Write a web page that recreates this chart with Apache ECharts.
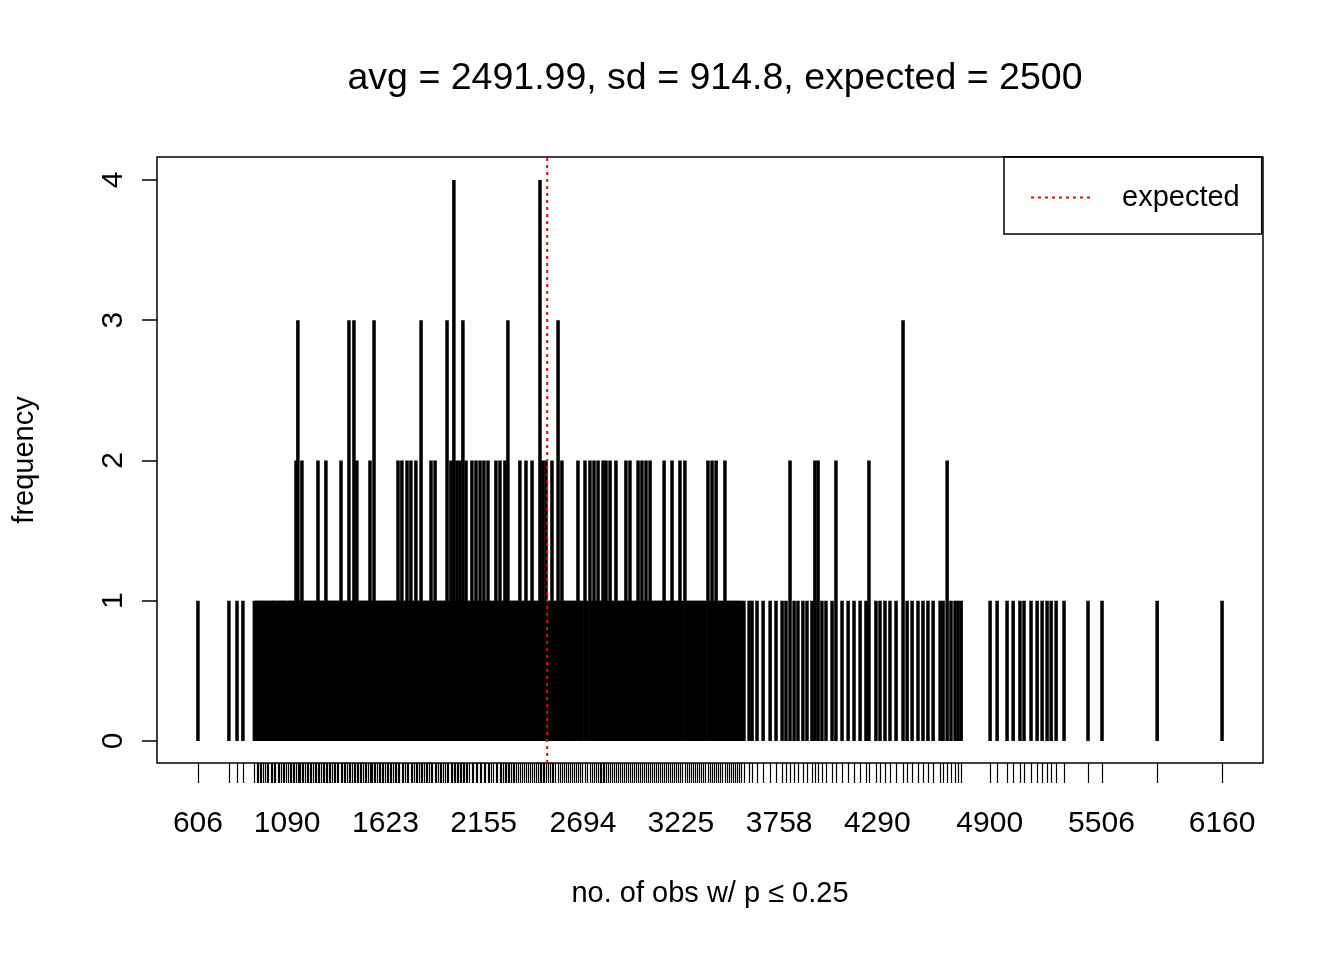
<!DOCTYPE html>
<html><head><meta charset="utf-8">
<script src="https://cdn.jsdelivr.net/npm/echarts@6/dist/echarts.min.js"></script>
<style>html,body{margin:0;padding:0;background:#fff}#c{width:1344px;height:960px}</style>
</head><body><div id="c"></div>
<script>
const freq1 = [606,774,818,850,
912,925,931,944,952,960,973,981,990,1002,1011,1019,1027,1040,1049,1058,1066,1075,1083,1096,1104,1113,1121,1130,1156,1163,1179,1188,1197,1205,1214,1222,1231,1240,1248,1266,1274,1283,1291,1309,1318,1326,1335,1343,1352,1361,1369,1390,1399,1407,1416,1434,1443,1460,1477,1486,1494,1503,1512,1520,1529,1547,1553,1570,1578,1587,1596,1604,1613,1622,1630,1639,1648,1656,1665,1674,1682,1699,1721,1730,1749,1770,1779,1797,1806,1815,1825,1834,1843,1852,1861,1879,1901,1910,1919,1928,1937,1946,1966,1985,2002,2019,2035,2051,2069,2078,2101,2123,2145,2166,2188,2198,2210,2231,2253,2262,2280,2296,2305,2314,2323,2332,2341,2363,2374,2396,2407,2429,2440,2450,2470,2486,2505,2515,2535,2546,2569,2591,2602,2613,2624,2635,2646,2656,2678,2689,2716,2743,2765,2787,2792,2812,2830,2852,2862,2884,2895,2906,2916,2938,2960,2971,2982,3004,3025,3047,3069,3080,3091,3102,3113,3123,3145,3156,3166,3188,3199,3209,3231,3258,3269,3280,3291,3302,3313,3324,3335,3345,3356,3383,3405,3427,3438,3449,3475,3486,3497,3508,3519,3530,3542,3553,
3567,3595,3611,3638,3671,3709,3741,3774,3795,3839,3860,3887,3909,3936,3990,4012,4045,4099,4132,4164,4197,4229,4283,4305,4332,4359,4392,4452,4479,4511,4538,4565,4593,4631,4647,4690,4712,4728,4745,4902,4940,4994,5027,5064,5086,5124,5157,5184,5211,5233,5260,5303,5433,5509,5808,6160];
const freq2 = [1138,1170,1257,1300,1382,1468,1539,1691,1712,1740,1761,1788,1870,1892,1978,2011,2027,2060,2092,2114,2136,2157,2179,2222,2244,2271,2352,2385,2418,2477,2494,2526,2580,2667,2705,2732,2754,2776,2803,2819,2841,2873,2927,2949,2993,3014,3036,3058,3134,3177,3220,3247,3372,3394,3416,3464,3817,3952,3969,4066,4245,4669];
const freq3 = [1148,1425,1452,1561,1816,1957,2043,2287,2559,4430];
const freq4 = [1994,2461];
const xLabels = [606,1090,1623,2155,2694,3225,3758,4290,4900,5506,6160];
const yLabels = [0,1,2,3,4];
const expected = 2500;

const data = [];
freq1.forEach(v=>data.push([v,1]));
freq2.forEach(v=>data.push([v,2]));
freq3.forEach(v=>data.push([v,3]));
freq4.forEach(v=>data.push([v,4]));
const allX = data.map(d=>d[0]).sort((a,b)=>a-b);
const F = 'Liberation Sans';
const yMin=-0.157, yMax=4.164;
const chart = echarts.init(document.getElementById('c'));
chart.setOption({
  animation:false,
  title:{text:'avg = 2491.99, sd = 914.8, expected = 2500',left:710,top:55,textAlign:'center',
    textStyle:{fontFamily:F,fontSize:37.5,fontWeight:'normal',color:'#000'}},
  grid:{left:157,right:81,top:157,bottom:197,show:true,borderColor:'#000',borderWidth:1.5,backgroundColor:'transparent'},
  legend:{left:1004,top:157,orient:'vertical',itemWidth:60,itemHeight:10,itemGap:0,
    padding:[26,22,22,26],borderColor:'#000',borderWidth:1.5,
    itemStyle:{color:'transparent',borderWidth:0,opacity:0},
    textStyle:{fontFamily:F,fontSize:29,color:'#000',padding:[0,0,0,26]},data:['expected']},
  xAxis:{type:'value',min:384,max:6382,
    name:'no. of obs w/ p \u2264 0.25',nameLocation:'middle',nameGap:116,
    nameTextStyle:{fontFamily:F,fontSize:29,color:'#000'},
    axisLine:{show:false,onZero:false},splitLine:{show:false},
    axisTick:{show:true,length:20,customValues:allX,lineStyle:{color:'#000',width:1.2}},
    axisLabel:{customValues:xLabels,margin:46,fontFamily:F,fontSize:30,color:'#000',formatter:v=>String(v)}},
  yAxis:{type:'value',min:yMin,max:yMax,
    name:'frequency',nameLocation:'middle',nameGap:118,nameRotate:90,
    nameTextStyle:{fontFamily:F,fontSize:29,color:'#000'},
    axisLine:{show:false,onZero:false},splitLine:{show:false},
    axisTick:{show:true,length:15,customValues:yLabels,lineStyle:{color:'#000',width:1.5}},
    axisLabel:{customValues:yLabels,rotate:90,margin:28,fontFamily:F,fontSize:30,color:'#000',formatter:v=>String(v)}},
  series:[
    {type:'bar',data:data,barWidth:3.5,itemStyle:{color:'#000'},barGap:'-100%'},
    {type:'line',name:'expected',data:[[expected,yMin],[expected,yMax]],symbol:'none',
      lineStyle:{color:'#ff0000',type:[3,4],width:2},itemStyle:{color:'#ff0000'},z:5}
  ]
});
</script></body></html>
